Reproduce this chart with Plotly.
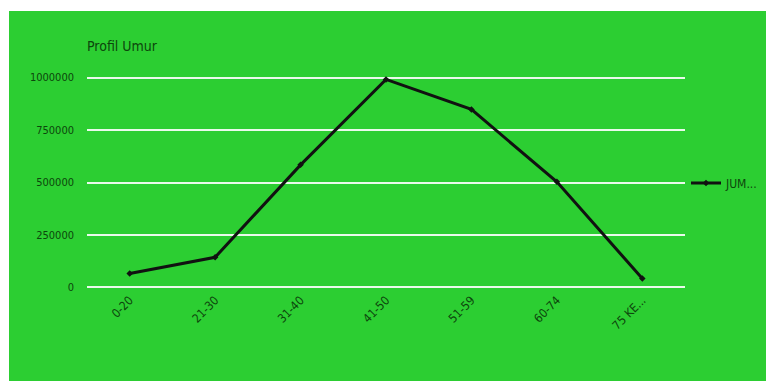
import plotly.graph_objects as go

# Age-group profile
kelompok_umur = ["0-20", "21-30", "31-40", "41-50", "51-59", "60-74", "75 KE..."]
jumlah = [67000, 144000, 584000, 991000, 848000, 503000, 43000]
nilai_sumbu_y = [0, 250000, 500000, 750000, 1000000]
label_sumbu_y = ["0", "250000", "500000", "750000", "1000000"]

HIJAU = "rgb(44,206,50)"
TEKS = "rgb(12,70,12)"
FONT = "DejaVu Sans Condensed, Liberation Sans Narrow, Arial Narrow, sans-serif"

fig = go.Figure()
fig.add_trace(go.Scatter(
    x=kelompok_umur,
    y=jumlah,
    mode="lines+markers",
    name="JUM...",
    line=dict(color="#111111", width=3),
    marker=dict(color="#111111", size=5, symbol="diamond"),
))

W, H = 766, 381
# plot box: 1,000,000 units = 209 px, padded by 12,000 units on each end
PAD = 12000
px_per_unit = 209 / 1_000_000
L, R = 87, 81
T = round(78 - PAD * px_per_unit)
B = round(381 - 287 - PAD * px_per_unit)
pw, ph = W - L - R, H - T - B

# green panel with a thin white strip on the top and left edges
fig.add_shape(
    type="rect", xref="paper", yref="paper", layer="below",
    x0=(9 - L) / pw, x1=(W + 20 - L) / pw,
    y0=-(B + 20) / ph, y1=(H - B - 11) / ph,
    fillcolor=HIJAU, line=dict(width=0),
)

fig.update_layout(
    width=W, height=H,
    margin=dict(l=L, r=R, t=T, b=B, autoexpand=False),
    paper_bgcolor="white",
    plot_bgcolor="rgba(0,0,0,0)",
    font=dict(family=FONT, color=TEKS, size=11),
    title=dict(
        text="Profil Umur", xref="paper", x=0, xanchor="left",
        yref="container", y=1 - 46 / H, yanchor="middle",
        font=dict(family=FONT, size=14, color=TEKS),
    ),
    showlegend=True,
    legend=dict(
        x=686 / W, xanchor="left", xref="container",
        y=1 - 183 / H, yanchor="middle", yref="container",
        bgcolor="rgba(0,0,0,0)",
        font=dict(family=FONT, size=12, color=TEKS),
        itemwidth=30,
    ),
    xaxis=dict(
        type="category",
        range=[-0.5, len(kelompok_umur) - 0.5],
        tickangle=-45,
        showgrid=False,
        showline=False,
        zeroline=False,
        ticks="",
        tickfont=dict(family=FONT, size=12, color=TEKS),
    ),
    yaxis=dict(
        range=[-PAD, 1_000_000 + PAD],
        tickvals=nilai_sumbu_y,
        ticktext=label_sumbu_y,
        showgrid=True,
        gridcolor="rgba(255,255,255,0.9)",
        gridwidth=1.5,
        zeroline=False,
        showline=False,
        ticks="",
        ticklabelstandoff=12,
        tickfont=dict(family=FONT, size=11, color=TEKS),
    ),
)

fig.write_html("out.html")
